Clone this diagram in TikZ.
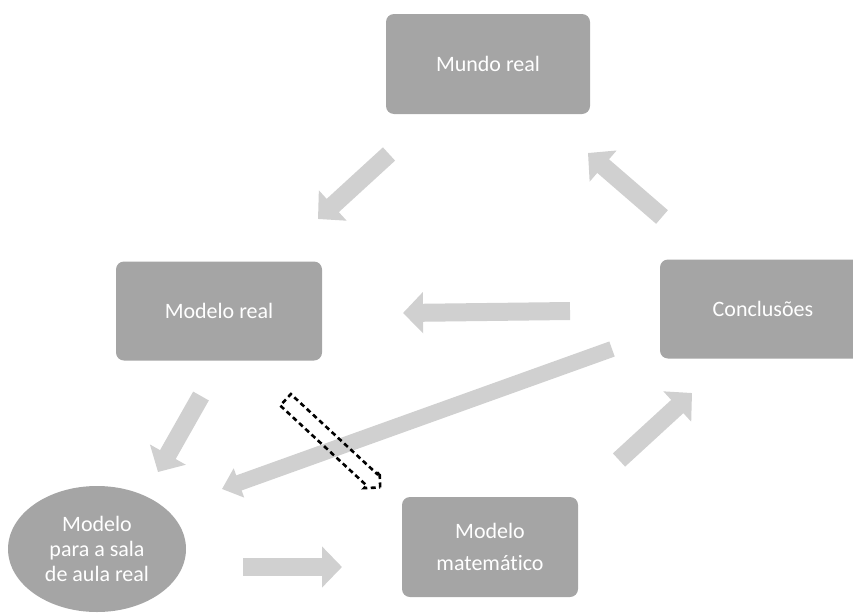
\documentclass[tikz,border=0pt]{standalone}
\usepackage{fontspec}
\setmainfont{Carlito}[Ligatures=NoCommon]
\usetikzlibrary{shapes.geometric,shapes.arrows,arrows.meta}

\definecolor{boxgray}{HTML}{A5A5A5}
\definecolor{arrgray}{HTML}{D0D0D0}

\begin{document}
\begin{tikzpicture}[
  x=1pt,y=-1pt,
  font=\fontsize{22}{32}\selectfont,
  box/.style={fill=boxgray,rounded corners=8pt,text=white,align=center,
              inner sep=0pt},
  oval/.style={ellipse,fill=boxgray,text=white,align=center,inner sep=0pt,
               font=\fontsize{22}{25}\selectfont},
  blockarr/.style={-{Triangle[length=20pt,width=40pt]},line width=18pt,draw=arrgray},
  longarr/.style={-{Triangle[length=18pt,width=30pt]},line width=16pt,draw=arrgray},
  hollowarr/.style={single arrow,draw,dash pattern=on 5pt off 3.5pt,line width=2.6pt,
                    inner sep=6.5pt,single arrow head extend=3.5pt,minimum height=129pt},
]
\useasboundingbox (0,0) rectangle (853,613);

%% ---- Boxes -----------------------------------------------------------------
\node[box,minimum width=204pt,minimum height=100pt] (mundo) at (488,64) {Mundo real};
\node[box,minimum width=206pt,minimum height=99pt] (modreal) at (219,311) {Modelo real};
\node[box,minimum width=206pt,minimum height=99pt] (concl) at (763,309) {Conclusões};
\node[box,minimum width=176pt,minimum height=100pt] (modmat) at (490,547) {Modelo\\matemático};
\node[oval,minimum width=178pt,minimum height=126pt] (sala) at (97,549) {Modelo\\para a sala\\de aula real};

%% ---- Arrow end points ------------------------------------------------------
\coordinate (a1s) at (389,154);  \coordinate (a1e) at (318,219);
\coordinate (a2s) at (662,217);  \coordinate (a2e) at (588,153);
\coordinate (a3s) at (570,311);  \coordinate (a3e) at (403,313);
\coordinate (a4s) at (201,396);  \coordinate (a4e) at (158,472);
\coordinate (a5s) at (619,460);  \coordinate (a5e) at (692,393);
\coordinate (a6s) at (243,567);  \coordinate (a6e) at (342,567);
\coordinate (a7s) at (612,349);  \coordinate (a7e) at (222,489);

%% ---- Arrows: the cycle
\draw[blockarr] (a1s) -- (a1e);
\draw[blockarr] (a4s) -- (a4e);
\draw[blockarr] (a6s) -- (a6e);
\draw[blockarr] (a5s) -- (a5e);
\draw[blockarr] (a2s) -- (a2e);

%% ---- Arrows: back from conclusions
\draw[blockarr] (a3s) -- (a3e);
\draw[longarr]  (a7s) -- (a7e);

%% ---- Dashed outline arrow
\node[hollowarr,rotate=-42.8] (skip) at (330,441) {};

\end{tikzpicture}
\end{document}
